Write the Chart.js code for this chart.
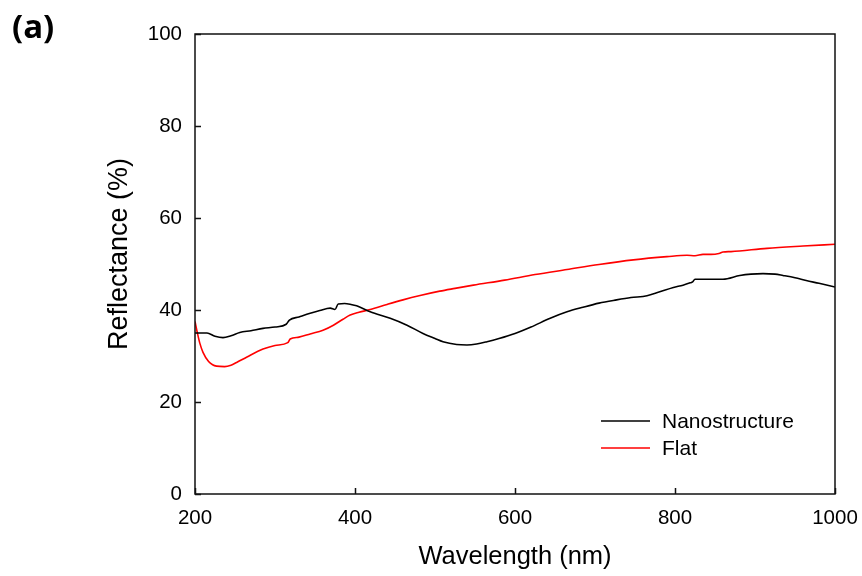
<!DOCTYPE html>
<html>
<head>
<meta charset="utf-8">
<title>Reflectance</title>
<script src="https://cdn.jsdelivr.net/npm/chart.js@4/dist/chart.umd.min.js"></script>
<style>
  html, body { margin: 0; padding: 0; background: #fff; }
  #wrap { width: 862px; height: 576px; }
</style>
</head>
<body>
<div id="wrap"><canvas id="reflChart" width="862" height="576"></canvas></div>
<script>
'use strict';

// ── Data ──────────────────────────────────────────────────────────
const NANO_NM = [200, 215, 225, 235, 245, 256, 270, 285, 300, 314, 318, 330, 344, 356, 369, 375, 379, 387, 395, 402,
  419, 444, 465, 485, 500, 510, 527, 540, 552, 565, 580, 600, 620, 644, 665, 685, 705, 727, 745, 765,
  780, 798, 810, 819, 822, 825, 840, 860, 881, 895, 910, 925, 935, 950, 964, 980, 1000];
const NANO_R = [35.0, 35.0, 34.3, 34.0, 34.4, 35.1, 35.5, 36.0, 36.3, 36.9, 37.8, 38.5, 39.3, 39.9, 40.4, 40.1, 41.3, 41.4, 41.2, 40.9,
  39.6, 38.2, 36.7, 34.9, 33.8, 33.1, 32.5, 32.4, 32.6, 33.1, 33.8, 34.9, 36.3, 38.2, 39.6, 40.6, 41.5, 42.2, 42.7, 43.1,
  43.9, 44.9, 45.4, 45.9, 46.1, 46.7, 46.7, 46.7, 47.5, 47.8, 47.9, 47.8, 47.5, 47.0, 46.4, 45.8, 45.0];

const FLAT_NM = [200, 203, 206, 210, 217, 222, 227, 237, 245, 252, 265, 285, 300, 316, 319, 330, 344, 360, 373, 385,
  394, 405, 419, 440, 460, 480, 506, 525, 548, 587, 625, 665, 705, 748, 790, 815, 825, 835, 845, 855,
  860, 870, 915, 960, 1000];
const FLAT_R = [37.5, 35.0, 32.8, 30.8, 28.8, 28.1, 27.8, 27.7, 28.0, 28.6, 29.8, 31.5, 32.3, 32.9, 33.7, 34.1, 34.8, 35.6, 36.7, 38.0,
  38.9, 39.5, 40.1, 41.2, 42.2, 43.1, 44.1, 44.7, 45.4, 46.5, 47.7, 48.8, 49.9, 50.9, 51.6, 51.9, 51.8, 52.1, 52.1, 52.3,
  52.6, 52.7, 53.4, 53.9, 54.3];

const SERIES_NAMES = ['Nanostructure', 'Flat'];
const X_TITLE = 'Wavelength (nm)';
const Y_TITLE = 'Reflectance (%)';
const PANEL = '(a)';

const FONT = '"Liberation Sans", Arial, sans-serif';
const toXY = (xs, ys) => xs.map((x, i) => ({ x, y: ys[i] }));

// ── Frame, inward ticks, titles and legend ────────────────────────
const decorations = {
  id: 'decorations',
  afterDraw(c) {
    const { ctx, chartArea: a, scales } = c;
    ctx.save();
    ctx.strokeStyle = '#111';
    ctx.lineWidth = 1.5;
    ctx.strokeRect(a.left, a.top, a.right - a.left, a.bottom - a.top);

    // tick marks point into the plot
    ctx.beginPath();
    scales.x.ticks.forEach(t => {
      const px = Math.round(scales.x.getPixelForValue(t.value)) + 0.5;
      ctx.moveTo(px, a.bottom); ctx.lineTo(px, a.bottom - 6);
    });
    scales.y.ticks.forEach(t => {
      const py = Math.round(scales.y.getPixelForValue(t.value)) + 0.5;
      ctx.moveTo(a.left, py); ctx.lineTo(a.left + 6, py);
    });
    ctx.stroke();

    ctx.fillStyle = '#000';
    ctx.textAlign = 'center';
    ctx.textBaseline = 'middle';
    ctx.font = '25.5px ' + FONT;
    ctx.fillText(X_TITLE, (a.left + a.right) / 2, 557);
    ctx.save();
    ctx.translate(120, 254);
    ctx.rotate(-Math.PI / 2);
    ctx.font = '27px ' + FONT;
    ctx.fillText(Y_TITLE, 0, 0);
    ctx.restore();

    ctx.font = 'bold 33px "Open Sans", "Noto Sans", sans-serif';
    ctx.textAlign = 'left';
    ctx.fillText(PANEL, 12, 29);

    // legend
    ctx.font = '21px ' + FONT;
    c.data.datasets.forEach((ds, i) => {
      const y = 421 + i * 27;
      ctx.strokeStyle = ds.borderColor;
      ctx.lineWidth = 1.5;
      ctx.beginPath(); ctx.moveTo(601, y); ctx.lineTo(650, y); ctx.stroke();
      ctx.fillStyle = '#000';
      ctx.fillText(ds.label, 662, y + 1);
    });
    ctx.restore();
  },
};

// ── Chart ─────────────────────────────────────────────────────────
new Chart(document.getElementById('reflChart').getContext('2d'), {
  type: 'line',
  data: {
    datasets: [
      { label: SERIES_NAMES[0], data: toXY(NANO_NM, NANO_R), borderColor: '#000000' },
      { label: SERIES_NAMES[1], data: toXY(FLAT_NM, FLAT_R), borderColor: '#ff0000' },
    ].map(d => ({ ...d, borderWidth: 1.6, pointRadius: 0, fill: false, cubicInterpolationMode: 'monotone' })),
  },
  options: {
    responsive: false,
    devicePixelRatio: 1,
    animation: false,
    layout: { padding: { left: 0, right: 27, top: 34, bottom: 0 } },
    scales: {
      x: {
        type: 'linear', min: 200, max: 1000,
        ticks: { stepSize: 200, color: '#000', font: { family: FONT, size: 20.5 }, padding: 12, maxRotation: 0,
          callback: v => String(v) },
        grid: { display: false, drawTicks: false },
        border: { display: false },
        afterFit: s => { s.height = 82; s.paddingLeft = 0; s.paddingRight = 0; },
      },
      y: {
        min: 0, max: 100,
        ticks: { stepSize: 20, color: '#000', font: { family: FONT, size: 20.5 }, padding: 13 },
        grid: { display: false, drawTicks: false },
        border: { display: false },
        afterFit: s => { s.width = 195; s.paddingTop = 0; s.paddingBottom = 0; },
      },
    },
    plugins: { legend: { display: false }, tooltip: { enabled: false } },
  },
  plugins: [decorations],
});
</script>
</body>
</html>
